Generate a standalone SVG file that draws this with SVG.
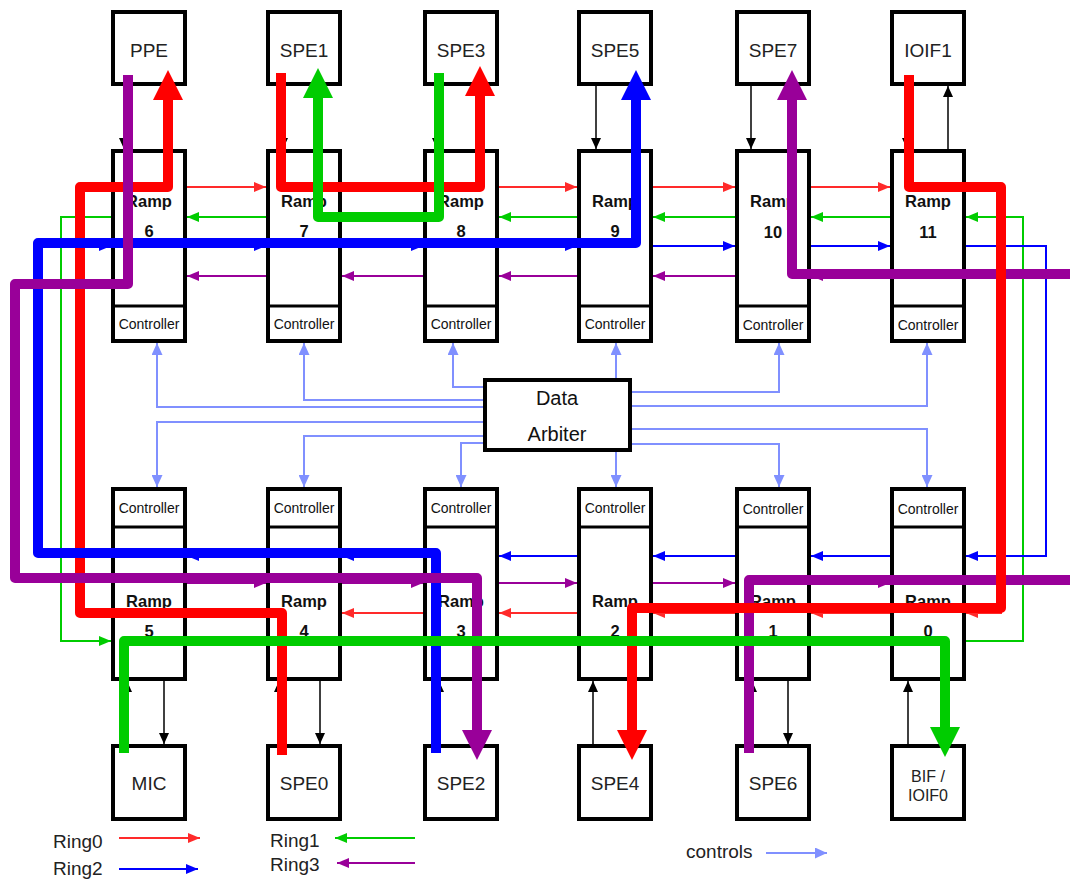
<svg xmlns="http://www.w3.org/2000/svg" width="1070" height="879" viewBox="0 0 1070 879">
  <defs>
    <style>
      .box { fill: #fff; stroke: #000; stroke-width: 4; }
      .div { stroke: #000; stroke-width: 3; }
      .unit { font-family: "Liberation Sans", Arial, sans-serif; font-size: 19px; fill: #222; text-anchor: middle; }
      .unit2 { font-family: "Liberation Sans", Arial, sans-serif; font-size: 16px; fill: #222; text-anchor: middle; }
      .ramp { font-family: "Liberation Sans", Arial, sans-serif; font-size: 16.5px; font-weight: bold; fill: #111; text-anchor: middle; }
      .ctl { font-family: "Liberation Sans", Arial, sans-serif; font-size: 14px; fill: #111; text-anchor: middle; }
      .arb { font-family: "Liberation Sans", Arial, sans-serif; font-size: 20px; fill: #111; text-anchor: middle; }
      .leg { font-family: "Liberation Sans", Arial, sans-serif; font-size: 19px; fill: #222; }
      .t { fill: none; stroke-width: 2; }
      .blk { fill: none; stroke: #000; stroke-width: 1.5; marker-end: url(#mBlack); }
      .c { fill: none; stroke: #8090ff; stroke-width: 2; marker-end: url(#mCtl); }
      .tr { stroke: #ff2a2a; marker-end: url(#mRed); }
      .tg { stroke: #00cc00; marker-end: url(#mGreen); }
      .tb { stroke: #0000ff; marker-end: url(#mBlue); }
      .tp { stroke: #990099; marker-end: url(#mPurple); }
      .thick { fill: none; stroke-width: 10; stroke-linejoin: round; }
    </style>
    <marker id="mRed" markerUnits="userSpaceOnUse" markerWidth="12" markerHeight="10" refX="12" refY="5" orient="auto"><path d="M0,0 L12,5 L0,10 z" fill="#ff2a2a"/></marker>
    <marker id="mGreen" markerUnits="userSpaceOnUse" markerWidth="12" markerHeight="10" refX="12" refY="5" orient="auto"><path d="M0,0 L12,5 L0,10 z" fill="#00cc00"/></marker>
    <marker id="mBlue" markerUnits="userSpaceOnUse" markerWidth="12" markerHeight="10" refX="12" refY="5" orient="auto"><path d="M0,0 L12,5 L0,10 z" fill="#0000ff"/></marker>
    <marker id="mPurple" markerUnits="userSpaceOnUse" markerWidth="12" markerHeight="10" refX="12" refY="5" orient="auto"><path d="M0,0 L12,5 L0,10 z" fill="#990099"/></marker>
    <marker id="mBlack" markerUnits="userSpaceOnUse" markerWidth="11" markerHeight="10" refX="11" refY="5" orient="auto"><path d="M0,0 L11,5 L0,10 z" fill="#000"/></marker>
    <marker id="mCtl" markerUnits="userSpaceOnUse" markerWidth="12" markerHeight="11" refX="12" refY="5.5" orient="auto"><path d="M0,0 L12,5.5 L0,11 z" fill="#8090ff"/></marker>
    <marker id="bRed" markerUnits="userSpaceOnUse" markerWidth="30" markerHeight="30" refX="0" refY="15" orient="auto"><path d="M0,0 L30,15 L0,30 z" fill="#ff0000"/></marker>
    <marker id="bGreen" markerUnits="userSpaceOnUse" markerWidth="30" markerHeight="30" refX="0" refY="15" orient="auto"><path d="M0,0 L30,15 L0,30 z" fill="#00cc00"/></marker>
    <marker id="bBlue" markerUnits="userSpaceOnUse" markerWidth="30" markerHeight="30" refX="0" refY="15" orient="auto"><path d="M0,0 L30,15 L0,30 z" fill="#0000ff"/></marker>
    <marker id="bPurple" markerUnits="userSpaceOnUse" markerWidth="30" markerHeight="30" refX="0" refY="15" orient="auto"><path d="M0,0 L30,15 L0,30 z" fill="#990099"/></marker>
  </defs>
  <rect width="1070" height="879" fill="#fff"/>

  <!-- top units -->
  <g id="ppe"><rect class="box" x="113" y="12" width="72" height="72"/><text class="unit" x="149" y="57">PPE</text></g>
  <g id="spe1"><rect class="box" x="268" y="12" width="72" height="72"/><text class="unit" x="304" y="57">SPE1</text></g>
  <g id="spe3"><rect class="box" x="425" y="12" width="72" height="72"/><text class="unit" x="461" y="57">SPE3</text></g>
  <g id="spe5"><rect class="box" x="579" y="12" width="72" height="72"/><text class="unit" x="615" y="57">SPE5</text></g>
  <g id="spe7"><rect class="box" x="737" y="12" width="72" height="72"/><text class="unit" x="773" y="57">SPE7</text></g>
  <g id="ioif1"><rect class="box" x="892" y="12" width="72" height="72"/><text class="unit" x="928" y="57">IOIF1</text></g>

  <!-- top ramps with controllers -->
  <g id="ramp6"><rect class="box" x="113" y="151" width="72" height="190"/><line class="div" x1="111" y1="306" x2="187" y2="306"/><text class="ramp" x="149" y="207">Ramp</text><text class="ramp" x="149" y="237">6</text><text class="ctl" x="149" y="329">Controller</text></g>
  <g id="ramp7"><rect class="box" x="268" y="151" width="72" height="190"/><line class="div" x1="266" y1="306" x2="342" y2="306"/><text class="ramp" x="304" y="207">Ramp</text><text class="ramp" x="304" y="237">7</text><text class="ctl" x="304" y="329">Controller</text></g>
  <g id="ramp8"><rect class="box" x="425" y="151" width="72" height="190"/><line class="div" x1="423" y1="306" x2="499" y2="306"/><text class="ramp" x="461" y="207">Ramp</text><text class="ramp" x="461" y="237">8</text><text class="ctl" x="461" y="329">Controller</text></g>
  <g id="ramp9"><rect class="box" x="579" y="151" width="72" height="190"/><line class="div" x1="577" y1="306" x2="653" y2="306"/><text class="ramp" x="615" y="207">Ramp</text><text class="ramp" x="615" y="237">9</text><text class="ctl" x="615" y="329">Controller</text></g>
  <g id="ramp10"><rect class="box" x="737" y="151" width="72" height="190"/><line class="div" x1="735" y1="306" x2="811" y2="306"/><text class="ramp" x="773" y="207">Ramp</text><text class="ramp" x="773" y="238">10</text><text class="ctl" x="773" y="330">Controller</text></g>
  <g id="ramp11"><rect class="box" x="892" y="151" width="72" height="190"/><line class="div" x1="890" y1="306" x2="966" y2="306"/><text class="ramp" x="928" y="207">Ramp</text><text class="ramp" x="928" y="238">11</text><text class="ctl" x="928" y="330">Controller</text></g>

  <!-- arbiter -->
  <g id="arbiter"><rect class="box" x="485" y="380" width="145" height="70"/><text class="arb" x="557" y="405">Data</text><text class="arb" x="557" y="441">Arbiter</text></g>

  <!-- bottom ramps with controllers -->
  <g id="ramp5"><rect class="box" x="113" y="489" width="72" height="190"/><line class="div" x1="111" y1="527" x2="187" y2="527"/><text class="ctl" x="149" y="513">Controller</text><text class="ramp" x="149" y="607">Ramp</text><text class="ramp" x="149" y="637">5</text></g>
  <g id="ramp4"><rect class="box" x="268" y="489" width="72" height="190"/><line class="div" x1="266" y1="527" x2="342" y2="527"/><text class="ctl" x="304" y="513">Controller</text><text class="ramp" x="304" y="607">Ramp</text><text class="ramp" x="304" y="637">4</text></g>
  <g id="ramp3"><rect class="box" x="425" y="489" width="72" height="190"/><line class="div" x1="423" y1="527" x2="499" y2="527"/><text class="ctl" x="461" y="513">Controller</text><text class="ramp" x="461" y="607">Ramp</text><text class="ramp" x="461" y="637">3</text></g>
  <g id="ramp2"><rect class="box" x="579" y="489" width="72" height="190"/><line class="div" x1="577" y1="527" x2="653" y2="527"/><text class="ctl" x="615" y="513">Controller</text><text class="ramp" x="615" y="607">Ramp</text><text class="ramp" x="615" y="637">2</text></g>
  <g id="ramp1"><rect class="box" x="737" y="489" width="72" height="190"/><line class="div" x1="735" y1="527" x2="811" y2="527"/><text class="ctl" x="773" y="514">Controller</text><text class="ramp" x="773" y="607">Ramp</text><text class="ramp" x="773" y="637">1</text></g>
  <g id="ramp0"><rect class="box" x="892" y="489" width="72" height="190"/><line class="div" x1="890" y1="527" x2="966" y2="527"/><text class="ctl" x="928" y="514">Controller</text><text class="ramp" x="928" y="607">Ramp</text><text class="ramp" x="928" y="637">0</text></g>

  <!-- bottom units -->
  <g id="mic"><rect class="box" x="113" y="746" width="72" height="73"/><text class="unit" x="149" y="790">MIC</text></g>
  <g id="spe0"><rect class="box" x="268" y="746" width="72" height="73"/><text class="unit" x="304" y="790">SPE0</text></g>
  <g id="spe2"><rect class="box" x="425" y="746" width="72" height="73"/><text class="unit" x="461" y="790">SPE2</text></g>
  <g id="spe4"><rect class="box" x="579" y="746" width="72" height="73"/><text class="unit" x="615" y="790">SPE4</text></g>
  <g id="spe6"><rect class="box" x="737" y="746" width="72" height="73"/><text class="unit" x="773" y="790">SPE6</text></g>
  <g id="bif"><rect class="box" x="892" y="746" width="72" height="73"/><text class="unit2" x="928" y="782">BIF /</text><text class="unit2" x="928" y="801">IOIF0</text></g>

  <g id="connectors">
    <!-- unit / ramp links -->
    <path class="blk" d="M124,86 V149"/>
    <path class="blk" d="M283,86 V149"/>
    <path class="blk" d="M437,86 V149"/>
    <path class="blk" d="M596,86 V149"/>
    <path class="blk" d="M751,86 V149"/>
    <path class="blk" d="M907,86 V149"/>
    <path class="blk" d="M948,149 V86"/>
    <path class="blk" d="M127,744 V681"/>
    <path class="blk" d="M164,681 V744"/>
    <path class="blk" d="M279,744 V681"/>
    <path class="blk" d="M320,681 V744"/>
    <path class="blk" d="M439,744 V681"/>
    <path class="blk" d="M593,744 V681"/>
    <path class="blk" d="M752,744 V681"/>
    <path class="blk" d="M788,681 V744"/>
    <path class="blk" d="M908,744 V681"/>

    <!-- arbiter control lines -->
    <path class="c" d="M483,387 H453 V343"/>
    <path class="c" d="M483,400 H304 V343"/>
    <path class="c" d="M483,407 H157 V343"/>
    <path class="c" d="M483,422 H157 V487"/>
    <path class="c" d="M483,436 H304 V487"/>
    <path class="c" d="M483,443 H461 V487"/>
    <path class="c" d="M616,378 V343"/>
    <path class="c" d="M616,452 V487"/>
    <path class="c" d="M632,392 H779 V343"/>
    <path class="c" d="M632,406 H927 V343"/>
    <path class="c" d="M632,429 H927 V487"/>
    <path class="c" d="M632,444 H779 V487"/>

    <!-- ring segments, upper row -->
    <path class="t tr" d="M187,187 H266"/>
    <path class="t tr" d="M342,187 H423"/>
    <path class="t tr" d="M499,187 H577"/>
    <path class="t tr" d="M653,187 H735"/>
    <path class="t tr" d="M811,187 H890"/>
    <path class="t tg" d="M266,217 H187"/>
    <path class="t tg" d="M423,217 H342"/>
    <path class="t tg" d="M577,217 H499"/>
    <path class="t tg" d="M735,217 H653"/>
    <path class="t tg" d="M890,217 H811"/>
    <path class="t tb" d="M187,246 H266"/>
    <path class="t tb" d="M342,246 H423"/>
    <path class="t tb" d="M499,246 H577"/>
    <path class="t tb" d="M653,246 H735"/>
    <path class="t tb" d="M811,246 H890"/>
    <path class="t tp" d="M266,276 H187"/>
    <path class="t tp" d="M423,276 H342"/>
    <path class="t tp" d="M577,276 H499"/>
    <path class="t tp" d="M735,276 H653"/>
    <path class="t tp" d="M890,276 H811"/>

    <!-- ring segments, lower row -->
    <path class="t tb" d="M266,556 H187"/>
    <path class="t tb" d="M423,556 H342"/>
    <path class="t tb" d="M577,556 H499"/>
    <path class="t tb" d="M735,556 H653"/>
    <path class="t tb" d="M890,556 H811"/>
    <path class="t tp" d="M187,583 H266"/>
    <path class="t tp" d="M342,583 H423"/>
    <path class="t tp" d="M499,583 H577"/>
    <path class="t tp" d="M653,583 H735"/>
    <path class="t tp" d="M811,583 H890"/>
    <path class="t tr" d="M266,613 H187"/>
    <path class="t tr" d="M423,613 H342"/>
    <path class="t tr" d="M577,613 H499"/>
    <path class="t tr" d="M735,613 H653"/>
    <path class="t tr" d="M890,613 H811"/>
    <path class="t tg" d="M187,641 H266"/>
    <path class="t tg" d="M342,641 H423"/>
    <path class="t tg" d="M499,641 H577"/>
    <path class="t tg" d="M653,641 H735"/>
    <path class="t tg" d="M811,641 H890"/>

    <!-- ring wrap-arounds at both ends -->
    <path class="t tg" d="M111,217 H61 V641 H111"/>
    <path class="t tg" d="M966,641 H1023 V217 H966"/>
    <path class="t tb" d="M966,246 H1046 V556 H966"/>
    <path class="t tb" d="M111,556 H38 V246 H111"/>
    <path class="t tr" d="M966,187 H1001 V613 H966"/>
    <path class="t tr" d="M111,613 H80 V187 H111"/>

    <!-- highlighted transfers -->
    <path class="thick" stroke="#ff0000" marker-end="url(#bRed)" d="M282,755 V613 H80 V187 H168 V100"/>
    <path class="thick" stroke="#ff0000" marker-end="url(#bRed)" d="M281,73 V187 H480 V96"/>
    <path class="thick" stroke="#00cc00" marker-end="url(#bGreen)" d="M439,73 V217 H318 V98"/>
    <path class="thick" stroke="#0000ff" marker-end="url(#bBlue)" d="M436,753 V553 H38 V243 H636 V100"/>
    <path class="thick" stroke="#990099" marker-end="url(#bPurple)" d="M128,75 V284 H15 V578 H477 V730"/>
    <path class="thick" stroke="#990099" d="M749,753 V580 H1075"/>
    <path class="thick" stroke="#990099" marker-end="url(#bPurple)" d="M1075,274 H792 V100"/>
    <path class="thick" stroke="#ff0000" marker-end="url(#bRed)" d="M909,75 V187 H1001 V608 H632 V730"/>
    <path class="thick" stroke="#00cc00" marker-end="url(#bGreen)" d="M124,753 V641 H945 V727"/>
  </g>

  <!-- legend -->
  <g id="legend">
    <text class="leg" x="53" y="848">Ring0</text>
    <path class="t tr" d="M119,838 H200"/>
    <text class="leg" x="53" y="875">Ring2</text>
    <path class="t tb" d="M119,869 H198"/>
    <text class="leg" x="270" y="847">Ring1</text>
    <path class="t tg" d="M415,838 H335"/>
    <text class="leg" x="270" y="871">Ring3</text>
    <path class="t tp" d="M415,863 H337"/>
    <text class="leg" x="686" y="858">controls</text>
    <path class="c" d="M766,853 H827"/>
  </g>
</svg>
